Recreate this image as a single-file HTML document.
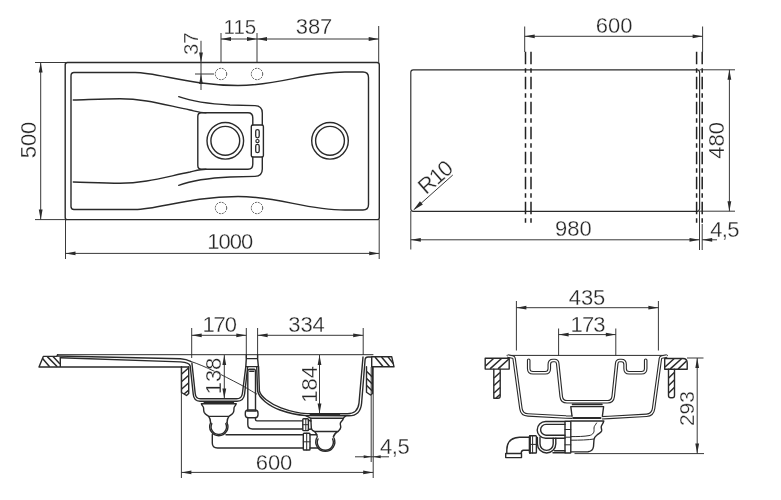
<!DOCTYPE html>
<html>
<head>
<meta charset="utf-8">
<title>Sink technical drawing</title>
<style>
html,body{margin:0;padding:0;background:#fff;}
body{width:781px;height:500px;overflow:hidden;}
svg{display:block;filter:grayscale(1);}
.o{fill:none;stroke:#2a2a2a;stroke-width:1.4;stroke-linecap:round;stroke-linejoin:round;}
.m{fill:none;stroke:#2b2b2b;stroke-width:1;stroke-linecap:round;stroke-linejoin:round;}
.t{fill:none;stroke:#2e2e2e;stroke-width:0.95;}
.h{fill:none;stroke:#2b2b2b;stroke-width:1.5;}
.dd{fill:none;stroke:#222;stroke-width:1.5;stroke-dasharray:12.5 4 4.5 4;}
.dc{fill:none;stroke:#333;stroke-width:0.85;stroke-dasharray:1.9 1.1;}
.a{fill:#2b2b2b;stroke:none;}
text{font-family:"Liberation Sans",sans-serif;font-size:22px;fill:#262626;stroke:#fff;stroke-width:0.3px;paint-order:fill stroke;text-anchor:middle;}
</style>
</head>
<body>
<svg width="781" height="500" viewBox="0 0 781 500">
<defs>
<path id="ar" d="M0,0 L-10,-1.9 L-10,1.9 Z"/>
<path id="as" d="M0,0 L-7.5,-1.5 L-7.5,1.5 Z"/>
</defs>
<rect x="0" y="0" width="781" height="500" fill="#fff"/>

<!-- ============ TOP LEFT: plan view ============ -->
<g id="plan">
<rect class="o" x="65.2" y="62.5" width="314.1" height="157.1" rx="2.2"/>
<path class="o" d="M71,76 Q71,72.5 74,72.5 L135,72.5 C158,72.5 190,85.5 238,85.5 C280,85.5 305,72 345,72 L363,72 Q368.5,72 368.5,77.5 L368.5,204.5 Q368.5,210 363,210 L345,210 C305,210 280,196.5 238,196.5 C190,196.5 158,209.5 135,209.5 L74,209.5 Q71,209.5 71,206.5 Z"/>
<!-- drainboard curves top -->
<path class="o" d="M73.3,100 C90,99.5 105,98.7 120,98.7 C145,98.7 165,105 190,110 C196,111.4 200,112.8 206,112.8 L248,112.8 Q252.8,112.8 252.8,118 L252.8,125"/>
<path class="o" d="M178.7,96.7 C192,101.5 205,103.8 230,105 L255,105.6 Q262.3,105.8 262.3,113 L262.3,125"/>
<!-- drainboard curves bottom (mirror about y=141) -->
<path class="o" d="M73.3,182 C90,182.5 105,183.3 120,183.3 C145,183.3 165,177 190,172 C196,170.6 200,169.2 206,169.2 L248,169.2 Q252.8,169.2 252.8,164 L252.8,157"/>
<path class="o" d="M178.7,185.3 C192,180.5 205,178.2 230,177 L255,176.4 Q262.3,176.2 262.3,169 L262.3,157"/>
<!-- small bowl -->
<path class="o" d="M206,112.8 L201.5,112.8 Q197.8,112.8 197.8,116.5 L197.8,165.5 Q197.8,169.2 201.5,169.2 L206,169.2"/>
<rect class="o" x="251.3" y="125" width="12.1" height="32" rx="1.5" fill="#fff"/>
<rect class="o" x="255.7" y="129.6" width="3.5" height="8.2" rx="1.7" style="stroke-width:1.3"/>
<rect class="o" x="255.7" y="144.4" width="3.5" height="8.2" rx="1.7" style="stroke-width:1.3"/>
<circle class="o" cx="257.45" cy="141.1" r="1.6" style="stroke-width:1.2"/>
<circle class="o" cx="225.3" cy="140.8" r="18.3"/>
<circle class="o" cx="225.3" cy="140.8" r="14.4"/>
<circle class="o" cx="330" cy="140.8" r="18.3"/>
<circle class="o" cx="330" cy="140.8" r="14.4"/>
<circle class="dc" cx="221" cy="74" r="5.7"/>
<circle class="dc" cx="257" cy="74" r="5.7"/>
<circle class="dc" cx="221" cy="208" r="5.7"/>
<circle class="dc" cx="257" cy="208" r="5.7"/>
</g>

<!-- dims plan -->
<g id="plandims">
<path class="t" d="M35,62.5 H67 M35,219.6 H67 M40.7,62.5 V219.6"/>
<use href="#ar" class="a" transform="translate(40.7,62.5) rotate(-90)"/>
<use href="#ar" class="a" transform="translate(40.7,219.5) rotate(90)"/>
<text transform="translate(36.2,140) rotate(-90)">500</text>
<path class="t" d="M65.5,219.5 V259 M379.2,219.5 V259 M65.5,253.4 H379.2"/>
<use href="#ar" class="a" transform="translate(65.5,253.4) rotate(180)"/>
<use href="#ar" class="a" transform="translate(379.2,253.4)"/>
<text x="229.7" y="248.6" letter-spacing="-1">1000</text>
<path class="t" d="M221,33 V62.5 M257,33 V62.5 M378.7,26 V62.5 M221,39 H378.7"/>
<use href="#ar" class="a" transform="translate(221,39) rotate(180)"/>
<use href="#ar" class="a" transform="translate(257,39)"/>
<use href="#ar" class="a" transform="translate(257,39) rotate(180)"/>
<use href="#ar" class="a" transform="translate(378.7,39)"/>
<text x="239.9" y="33.9" style="font-size:20.5px">115</text>
<text x="314" y="34">387</text>
<path class="t" d="M201,40.8 V90 M195,74 H214"/>
<use href="#ar" class="a" transform="translate(201,62.5) rotate(90)"/>
<use href="#ar" class="a" transform="translate(201,74) rotate(-90)"/>
<text transform="translate(198.3,43.7) rotate(-90)" style="font-size:20.5px">37</text>
</g>

<!-- ============ TOP RIGHT: cutout ============ -->
<g id="cutout">
<rect class="m" x="410.8" y="69.8" width="288.8" height="141.5" rx="2.5" style="stroke-width:1.15"/>
<path class="dd" d="M525.5,51.7 V224 M531,51.7 V224 M696.6,51.7 V224 M702.2,51.7 V224"/>
<path class="t" d="M524.7,26.5 V52 M702.6,26.5 V52 M524.7,36.3 H702.6"/>
<use href="#ar" class="a" transform="translate(524.7,36.3) rotate(180)"/>
<use href="#ar" class="a" transform="translate(702.6,36.3)"/>
<text x="614.2" y="33">600</text>
<path class="t" d="M699.5,69.8 H735 M699.5,211.2 H735 M729.4,69.8 V211.2"/>
<use href="#ar" class="a" transform="translate(729.4,69.8) rotate(-90)"/>
<use href="#ar" class="a" transform="translate(729.4,211.2) rotate(90)"/>
<text transform="translate(724.3,140.3) rotate(-90)">480</text>
<path class="t" d="M410.8,211 V249.5 M410.8,239.8 H699.5 M699.5,211 V250 M702.2,224 V250 M702.2,239.8 H717"/>
<use href="#ar" class="a" transform="translate(410.8,239.8) rotate(180)"/>
<use href="#ar" class="a" transform="translate(699.5,239.8)"/>
<use href="#ar" class="a" transform="translate(702.2,239.8) rotate(180)"/>
<text x="573.4" y="236.3">980</text>
<text x="724.6" y="236.6" letter-spacing="-0.6">4,5</text>
<path class="t" d="M414.5,209.2 L452.8,175"/>
<path class="a" d="M0,0 L-11,-2.2 L-11,2.2 Z" transform="translate(413.2,210.3) rotate(138.2)"/>
<text transform="translate(439.9,183) rotate(-41.3)" letter-spacing="-1.2">R10</text>
</g>


<!-- ============ BOTTOM LEFT: long section ============ -->
<g id="secL">
<!-- dims -->
<path class="t" d="M191.7,328 V358 M246.3,328 V358.6 M257.6,328 V358.6 M363.2,328 V355 M191.7,335.3 H246.3 M257.6,335.3 H363.2"/>
<use href="#ar" class="a" transform="translate(191.7,335.3) rotate(180)"/>
<use href="#ar" class="a" transform="translate(246.3,335.3)"/>
<use href="#ar" class="a" transform="translate(257.6,335.3) rotate(180)"/>
<use href="#ar" class="a" transform="translate(363.2,335.3)"/>
<text x="219.1" y="331.7" letter-spacing="-1.1">170</text>
<text x="306.5" y="331.5">334</text>
<!-- top reference line -->
<path class="m" d="M57.7,354.7 H373"/>
<!-- left rim -->
<path class="o" d="M39,367 L43.3,356.4 L56.8,356.4 L57.7,354.7 M60.3,357.8 V367 M39,367 H188.3"/>
<path class="h" d="M42.6,358.6 L49.6,366.7 M47.3,356.6 L57.3,366.7 M53,356.6 L60,364"/>
<!-- drainboard surface lines -->
<path class="o" d="M57.7,356 L180.5,358.8 C186,359.2 188.5,360.3 190.7,361.4"/>
<path class="t" d="M190.7,361.4 C205,366 222,375 240,384.4 C248,388.6 252,391.5 257,394.2"/>
<path class="o" d="M60.3,357.8 L180.5,361.9 C187,362.3 189.7,363.4 190.2,366 L193.2,394 Q193.8,401.2 200,401.2 L237,401.2 Q243.8,401.2 244.6,394 L247.7,366.6"/>
<path class="o" d="M191.9,363 L195.2,393.5 Q195.7,398.8 200.5,398.8 L236.5,398.8 Q241.6,398.8 242.4,393.5 L245.8,366.6"/>
<!-- hatch under counter left -->
<path class="o" d="M181.5,366.8 V392.5 L186.5,395.5 L188.7,393.5 V366.8"/>
<path class="h" d="M181.7,374 L188.5,368 M181.7,381.5 L188.5,375.5 M181.7,389 L188.5,383 M184,394 L188.5,390.3"/>
<path class="t" d="M181.4,367 V478"/>
<!-- between bowls -->
<path class="o" d="M246.3,355 L246.3,358.6 L245.8,366.6 H258.4 L257.6,358.6 V355 M246.3,358.6 H257.6"/>
<!-- overflow tube -->
<path class="o" d="M247.8,409.5 V371 Q247.8,369.2 249.5,369.2 H254 Q255.5,369.2 255.5,371 V409.5"/>
<path class="o" d="M249.8,371.3 H253.8" style="stroke-width:1.6"/>
<rect class="o" x="245.3" y="410" width="12.7" height="7.8" rx="3"/>
<path class="o" d="M247.3,410.9 H256" style="stroke-width:1.5"/>
<path class="o" d="M247.8,417.8 V424.5 Q247.8,429 252.5,429 H302.5 M255.5,417.8 V419.5 Q255.5,420.9 257,420.9 H302.5"/>
<!-- right bowl -->
<path class="o" d="M256.7,366.6 L257.6,391 C259,398 268,405.5 280,410 C290,413.6 298,415 306,415.6 L349,415.8 Q360.4,415.8 361.6,403.2 L365.1,359.5 Q365.4,357 368,357 L371.5,357"/>
<path class="o" d="M258.6,366.6 L259.4,391 C260.8,396.5 269,403.3 281,407.8 C291,411.5 299,413.2 307,413.6 L347.5,413.7 Q357.8,413.7 359,403 L363,357"/>
<!-- right rim -->
<path class="o" d="M371.7,356.7 H391.7 L394,366.8 H371.7 Z"/>
<path class="h" d="M375,356.9 L383,366.6 M381.5,356.9 L389.5,366.6 M388,356.9 L393.2,363.5"/>
<path class="o" d="M366.5,366.8 V392.2 L370.5,395 L372.5,393.5 V366.8"/>
<path class="h" d="M366.7,371.5 L372.3,377 M366.7,378.5 L372.3,384 M366.7,385.5 L372.3,391"/>
<path class="t" d="M371.2,367 V462 M373.2,367 V478"/>
<!-- 138 / 184 -->
<path class="t" d="M224.3,355 V398.6 M319.5,355 V413.5"/>
<use href="#ar" class="a" transform="translate(224.3,355) rotate(-90)"/>
<use href="#ar" class="a" transform="translate(224.3,398.6) rotate(90)"/>
<use href="#ar" class="a" transform="translate(319.5,355) rotate(-90)"/>
<use href="#ar" class="a" transform="translate(319.5,413.5) rotate(90)"/>
<text transform="translate(221.2,376) rotate(-90)">138</text>
<text transform="translate(317.4,384.3) rotate(-90)">184</text>
<!-- left drain -->
<path class="o" d="M204.5,402.3 H233.2" style="stroke-width:2"/>
<path class="o" d="M201.4,403.8 C202,406 203.5,406.5 203.6,408 C203.7,410 203.5,411 204.2,412.3 C205.5,414.5 207,415 208.6,416.3 C210,418 210.5,420.5 210.6,422.7 M236.2,403.8 C235.6,406 234.1,406.5 234,408 C233.9,410 234.1,411 233.4,412.3 C232.1,414.5 230.6,415 229,416.3 C227.6,418 227.1,420.5 227,422.7 M201.4,403.8 H236.2 M208.6,416.4 H229"/>
<path class="o" d="M210.6,422.7 A9.1,9.1 0 1 0 227,422.7"/>
<path class="o" d="M211.8,423.6 A7.7,7.7 0 1 0 225.8,423.6"/>
<path class="o" d="M212.3,434.5 V443 Q212.3,448 217.5,448 H303.3 M226,434.8 H303.3"/>
<!-- right drain -->
<path class="o" d="M310.5,414.7 H339.2" style="stroke-width:2"/>
<path class="o" d="M306,415.8 C308,416.5 309.5,417.5 310.5,418.3 H343.3 C344,417 345,416.5 346,415.8"/>
<path class="o" d="M310.8,418.3 L311.3,428 C311.5,430 313,431 314.6,431.5 C316.5,433.5 317.2,435 317.3,437 M343.3,418.5 C342.8,421 340.5,421.5 340.3,423.4 C340.2,425.5 341,426 340.7,427.5 C340.3,429.5 339.2,430.3 338.2,431.2 C335.5,433 333.8,434.5 333.3,437 M314.6,431.5 H338.2"/>
<path class="o" d="M316.6,438 A9.5,9.5 0 1 0 334,438"/>
<path class="o" d="M318,439 A8,8 0 1 0 332.6,439"/>
<rect class="o" x="302.8" y="418.8" width="5.6" height="11.8" rx="0.8"/>
<path class="m" d="M305.8,418.8 V430.6 M302.8,424.7 H308.4"/>
<path class="o" d="M308.4,420.3 L311,421 M308.4,429.5 L311.3,429"/>
<rect class="o" x="303.3" y="433.2" width="6.7" height="16.8" rx="0.8"/>
<path class="m" d="M303.3,441.8 H310 M306.7,433.2 V450"/>
<path class="o" d="M310,434.8 H316.8 M310,448 H318.3"/>
<!-- 600 / 4,5 -->
<path class="t" d="M181.4,472.4 H373.2 M355,456.8 H389"/>
<use href="#ar" class="a" transform="translate(181.4,472.4) rotate(180)"/>
<use href="#ar" class="a" transform="translate(373.2,472.4)"/>
<use href="#as" class="a" transform="translate(371.2,456.8)"/>
<use href="#as" class="a" transform="translate(373.2,456.8) rotate(180)"/>
<text x="274" y="470">600</text>
<text x="394.6" y="453.6" letter-spacing="-0.5">4,5</text>
</g>

<!-- ============ BOTTOM RIGHT: cross section ============ -->
<g id="secR">
<!-- dims -->
<path class="t" d="M516.4,301 V350.5 M658.4,301 V350.5 M516.4,307.7 H658.4 M558.6,328.5 V355.5 M615.8,328.5 V355.5 M558.6,334.6 H615.8"/>
<use href="#ar" class="a" transform="translate(516.4,307.7) rotate(180)"/>
<use href="#ar" class="a" transform="translate(658.4,307.7)"/>
<use href="#ar" class="a" transform="translate(558.6,334.6) rotate(180)"/>
<use href="#ar" class="a" transform="translate(615.8,334.6)"/>
<text x="587" y="305">435</text>
<text x="587.6" y="331.7" letter-spacing="-0.9">173</text>
<path class="t" d="M687,358 H703.5 M697.2,358 V453.5 M574.5,453.6 H704"/>
<use href="#ar" class="a" transform="translate(697.2,358) rotate(-90)"/>
<use href="#ar" class="a" transform="translate(697.2,453.5) rotate(90)"/>
<text transform="translate(694.4,408.6) rotate(-90)" style="font-size:21px">293</text>
<!-- top line -->
<path class="m" d="M507,355.4 H667.5"/>
<!-- left rim -->
<rect class="o" x="485.2" y="358.3" width="24" height="10.8"/>
<path class="h" d="M485.5,366 L493.5,358.5 M490,368.9 L501.5,358.5 M498,368.9 L508.9,359"/>
<path class="o" d="M493.8,369.1 V398.2 H498 Q500.2,398.2 500.2,396 V369.1"/>
<path class="h" d="M494,378 L500,372.5 M494,385.5 L500,380 M494,393 L500,387.5 M496,398 L500,394.5"/>
<!-- right rim -->
<path class="o" d="M664.7,358.5 H683 Q687.2,358.5 687.2,363 V369.3 H664.7 Z"/>
<path class="h" d="M665,367 L674,358.7 M670,369.1 L681.5,358.7 M678,369.1 L686.5,361"/>
<path class="o" d="M668.5,369.3 V395.5 Q668.5,397.7 670.7,397.7 H672.3 Q674.5,397.7 674.5,395.5 V369.3"/>
<path class="h" d="M668.7,378 L674.3,372.5 M668.7,385.5 L674.3,380 M668.7,393 L674.3,387.5"/>
<!-- outer bowl: dark band + white core -->
<g id="obL">
<path d="M507.5,356 L512.5,357 Q513.9,357.3 514.1,358.6 L520.9,408.5 Q521.8,414.8 528,414.9 L566,417 L572.5,417.2" fill="none" stroke="#2b2b2b" stroke-width="3.5" stroke-linejoin="round"/>
<path d="M507.5,356 L512.5,357 Q513.9,357.3 514.1,358.6 L520.9,408.5 Q521.8,414.8 528,414.9 L566,417 L573.5,417.2" fill="none" stroke="#fff" stroke-width="1.3" stroke-linejoin="round"/>
</g>
<g id="obR">
<path d="M667,356 L662,357 Q660.6,357.3 660.4,358.6 L653.6,408.5 Q652.7,415 646.5,415.3 L609,417.4 L602,417.8" fill="none" stroke="#2b2b2b" stroke-width="3.5" stroke-linejoin="round"/>
<path d="M667,356 L662,357 Q660.6,357.3 660.4,358.6 L653.6,408.5 Q652.7,415 646.5,415.3 L609,417.4 L601,417.8" fill="none" stroke="#fff" stroke-width="1.3" stroke-linejoin="round"/>
</g>
<!-- inner bowl with ledges -->
<g id="ib">
<path d="M528.7,360.3 V368.5 Q528.7,372.8 533,372.8 H545.3 Q549.3,372.8 549.3,368.5 V364.5 Q549.3,360.5 553,360.5 H554.7 Q557.4,360.5 557.7,363.5 L561.2,396.5 Q561.8,401.8 567,401.8 H607.4 Q612.6,401.8 613.2,396.5 L616.7,363.5 Q617,360.5 619.7,360.5 H621.4 Q625.1,360.5 625.1,364.5 V368.5 Q625.1,372.8 629.1,372.8 H641.4 Q645.7,372.8 645.7,368.5 V360.3" fill="none" stroke="#2b2b2b" stroke-width="3.6" stroke-linejoin="round" stroke-linecap="round"/>
<path d="M528.7,360.3 V368.5 Q528.7,372.8 533,372.8 H545.3 Q549.3,372.8 549.3,368.5 V364.5 Q549.3,360.5 553,360.5 H554.7 Q557.4,360.5 557.7,363.5 L561.2,396.5 Q561.8,401.8 567,401.8 H607.4 Q612.6,401.8 613.2,396.5 L616.7,363.5 Q617,360.5 619.7,360.5 H621.4 Q625.1,360.5 625.1,364.5 V368.5 Q625.1,372.8 629.1,372.8 H641.4 Q645.7,372.8 645.7,368.5 V360.3" fill="none" stroke="#fff" stroke-width="1.4" stroke-linejoin="round" stroke-linecap="round"/>
</g>
<!-- drain between bowls -->
<path class="o" d="M572.6,404.4 H601.8" style="stroke-width:1.8"/>
<path class="o" d="M570.8,406.6 L572,416 M603.6,406.6 L602.4,416 M570.8,406.6 H603.6"/>
<path class="o" d="M573.2,418 H600.5" style="stroke-width:2"/>
<!-- body below -->
<path class="o" d="M571,421 H603.8 C603,424 601.2,425 601.2,427 C601.2,429 602,429.5 601.6,431 C600.8,433 598.5,433.5 597,435 C595,436.5 594.2,437.5 594,439.5 L593.5,446.5 C593,450 591.5,451.5 588,451.7 L571,451.9"/>
<path class="m" d="M596.6,423 C595.5,425 594,426 594,428 C594,430 594.3,431.5 593.5,432.8 C592.5,434.5 591,435.2 589,435.6 C584,436.5 578,436.6 571,436.6 M594,439 C588,440 580,440.2 571,440.2"/>
<!-- vertical nut -->
<rect class="o" x="565" y="421.2" width="5.8" height="31.8" rx="0.6"/>
<path class="m" d="M565,429.5 H570.8 M565,437.2 H570.8 M565,444.8 H570.8"/>
<!-- upper loop -->
<path class="o" d="M565,421.5 H545.6 A8.4,8.4 0 0 0 545.6,438.3 H565 M565,424.4 H546 A5.4,5.4 0 0 0 546,435.2 H565"/>
<!-- lower U -->
<path class="o" d="M537.4,437.5 V443.8 A9.2,9.2 0 0 0 555.8,443.8 V438.3 M540,437.5 V443.8 A6.6,6.6 0 0 0 553.2,443.8 V438.3"/>
<path class="o" d="M554.5,450.8 H565 M553,452.8 H565"/>
<!-- left nut -->
<rect class="o" x="529.4" y="435.8" width="7" height="17.2" rx="0.8"/>
<path class="o" d="M530,436 V453" style="stroke-width:1.8"/>
<path class="m" d="M529.4,444.4 H536.4 M532.6,435.8 V453"/>
<!-- elbow -->
<path class="o" d="M529.4,437.3 H519.5 Q506.8,437.8 506.8,450 V453.3 M529.4,450.2 H523.5 Q521.2,450.3 521.2,453.3"/>
<rect class="o" x="505.7" y="453.5" width="15.8" height="4.1"/>
</g>


</svg>
</body>
</html>
